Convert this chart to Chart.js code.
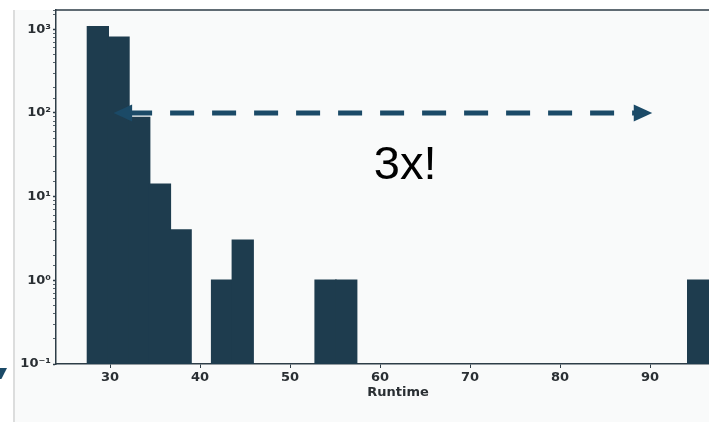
<!DOCTYPE html>
<html>
<head>
<meta charset="utf-8">
<script src="https://cdn.jsdelivr.net/npm/chart.js@4/dist/chart.umd.min.js"></script>
<style>
  html, body { margin: 0; padding: 0; background: #fff; overflow: hidden; }
  #panel { position: absolute; left: 13px; top: 10px; width: 760px; height: 430px;
           background: #f9fafa; border-left: 2px solid #dcdddd; }
  #mark { position: absolute; left: 0; top: 368px; width: 7px; height: 11px; background: #1b4a67;
          clip-path: polygon(0 0, 100% 0, 20% 100%, 0 100%); }
  #wrap { position: absolute; left: 0; top: 0; }
</style>
</head>
<body>
<div id="panel"></div>
<div id="mark"></div>
<div id="wrap"><canvas id="hist" width="760" height="422"></canvas></div>
<script>
// histogram bins (centres) and counts
const binCenters = [28.65, 30.95, 33.25, 35.55, 37.85, 42.45, 44.75, 53.95, 56.25, 95.35];
const counts     = [1070,  800,   88,    14,    4,     1,     3,     1,     1,     1];

const xTickValues = [30, 40, 50, 60, 70, 80, 90];
const xTitle = "Runtime";

// annotation arrow
const arrowX = [30.4, 90.25];
const arrowY = 100;
const noteText = "3x!";
const noteX = 62.8;
const noteY = 16.2;

const barColor = "#1e3c4e";
const arrowColor = "#1b4a67";
const axisColor = "#2e3d47";

const sup = { "-": "\u207b", "0": "\u2070", "1": "\u00b9", "2": "\u00b2", "3": "\u00b3" };
function powLabel(v) {
  const e = Math.log10(v);
  if (Math.abs(e - Math.round(e)) > 1e-6) return "";
  return "10" + String(Math.round(e)).split("").map(c => sup[c]).join("");
}

const framePlugin = {
  id: "frame",
  afterDraw(chart) {
    const { ctx, chartArea: a } = chart;
    ctx.save();
    ctx.strokeStyle = axisColor;
    ctx.lineWidth = 1.5;
    ctx.beginPath();
    ctx.moveTo(a.left, a.top);
    ctx.lineTo(a.right, a.top);
    ctx.lineTo(a.right, a.bottom);
    ctx.stroke();
    ctx.restore();
  }
};

const arrowPlugin = {
  id: "arrow",
  afterDatasetsDraw(chart) {
    const { ctx, scales: { x, y } } = chart;
    const x1 = x.getPixelForValue(arrowX[0]);
    const x2 = x.getPixelForValue(arrowX[1]);
    const yy = y.getPixelForValue(arrowY);
    const head = 18.5, half = 8.5;
    ctx.save();
    ctx.strokeStyle = arrowColor;
    ctx.fillStyle = arrowColor;
    ctx.lineWidth = 5;
    ctx.setLineDash([24, 18]);
    ctx.lineDashOffset = 3;
    ctx.beginPath();
    ctx.moveTo(x1 + head - 1, yy);
    ctx.lineTo(x2 - head + 1, yy);
    ctx.stroke();
    ctx.setLineDash([]);
    ctx.beginPath();
    ctx.moveTo(x1, yy);
    ctx.lineTo(x1 + head, yy - half);
    ctx.lineTo(x1 + head, yy + half);
    ctx.closePath();
    ctx.fill();
    ctx.beginPath();
    ctx.moveTo(x2, yy);
    ctx.lineTo(x2 - head, yy - half);
    ctx.lineTo(x2 - head, yy + half);
    ctx.closePath();
    ctx.fill();

    ctx.fillStyle = "#000";
    ctx.font = '47px "Liberation Sans", Arial, sans-serif';
    ctx.textAlign = "center";
    ctx.textBaseline = "alphabetic";
    ctx.fillText(noteText, x.getPixelForValue(noteX), y.getPixelForValue(noteY));
    ctx.restore();
  }
};

Chart.defaults.font.family = '"DejaVu Sans", sans-serif';
Chart.defaults.color = "#222";

new Chart(document.getElementById("hist"), {
  type: "bar",
  data: {
    datasets: [
      {
        data: binCenters.map((c, i) => ({ x: c, y: counts[i] })),
        backgroundColor: barColor,
        borderColor: barColor,
        borderWidth: 0,
        inflateAmount: 0.8,
        barPercentage: 1,
        categoryPercentage: 1,
      },
    ],
  },
  options: {
    responsive: false,
    animation: false,
    layout: { padding: { left: 0, top: 10, right: 20, bottom: 0 } },
    plugins: { legend: { display: false }, tooltip: { enabled: false } },
    scales: {
      x: {
        type: "linear",
        min: 24,
        max: 100,
        offset: false,
        afterBuildTicks: (s) => { s.ticks = xTickValues.map(v => ({ value: v })); },
        afterFit: (s) => { s.height = 58; },
        border: { display: true, color: axisColor, width: 1.5 },
        grid: { drawOnChartArea: false, drawTicks: true, tickLength: 4, tickColor: axisColor, tickWidth: 1, offset: false },
        ticks: { font: { size: 13, weight: "bold" }, padding: 2, maxRotation: 0, autoSkip: false, color: "#2a2f33" },
        title: { display: true, text: xTitle, font: { size: 13, weight: "bold" }, color: "#2a2f33", padding: { top: 0, bottom: 22 } },
      },
      y: {
        type: "logarithmic",
        min: 0.1,
        max: 1700,
        afterFit: (s) => { s.width = 56; },
        border: { display: true, color: axisColor, width: 1.5 },
        grid: {
          drawOnChartArea: false,
          drawTicks: true,
          tickLength: 3,
          tickColor: axisColor,
          tickWidth: (c) => (powLabel(c.tick.value) ? 1.5 : 0.8),
        },
        ticks: { font: { size: 13, weight: "bold" }, padding: 2, autoSkip: false, color: "#2a2f33", callback: (v) => powLabel(v) },
      },
    },
  },
  plugins: [framePlugin, arrowPlugin],
});
</script>
</body>
</html>
